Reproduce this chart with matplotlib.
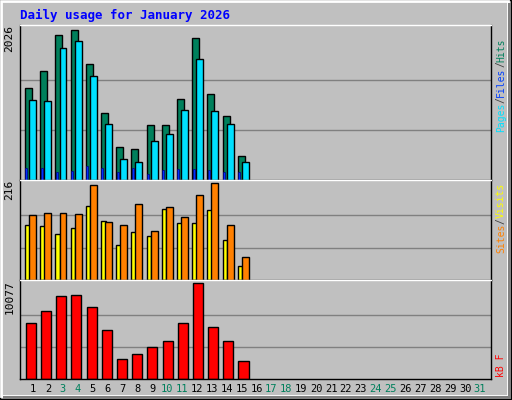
import matplotlib
matplotlib.use("Agg")
import matplotlib.pyplot as plt
from matplotlib.patches import Rectangle

days = list(range(1, 32))
hits = [1240,1461,1957,2026,1557,896,441,413,744,744,1089,1916,1158,855,317]
files = [1075,1061,1778,1874,1406,758,289,248,524,620,937,1626,923,758,248]
pages = [156,156,101,115,184,156,101,156,87,129,142,142,129,101,101]
visits = [122,120,103,115,164,131,77,106,99,157,127,127,155,89,31]
sites = [144,150,148,146,211,129,122,169,110,162,141,188,216,122,52]
kbytes = [5869,7087,8748,8859,7530,5094,2104,2658,3322,3987,5869,10077,5426,3987,1883]
weekend = [3,4,10,11,17,18,24,25,31]
title = "Daily usage for January 2026"

W, H = 512, 400
fig = plt.figure(figsize=(W/100, H/100), dpi=100)
fig.patch.set_facecolor("#c0c0c0")
fa = fig.add_axes([0, 0, 1, 1]); fa.set_xlim(0, W); fa.set_ylim(H, 0); fa.axis("off")
fa.add_patch(Rectangle((0, 0), W-1, H-1, fill=False, ec="black", lw=1))
fa.add_patch(Rectangle((1, 1), W-5, H-5, fill=False, ec="white", lw=2))
fa.add_patch(Rectangle((W-4, 3), 3, H-5, fc="#808080", ec="none"))
fa.add_patch(Rectangle((3, H-4), W-5, 3, fc="#808080", ec="none"))

mono = "DejaVu Sans Mono"
fig.text(20/W, 1-15/H, title, color="#0000ff", fontsize=9, fontweight="bold",
         family=mono, va="center")

x0, x1 = 20, 491
def panel(top, bot):
    ax = fig.add_axes([x0/W, 1-bot/H, (x1-x0)/W, (bot-top)/H])
    ax.set_facecolor("#c0c0c0")
    ax.set_xlim(0.5, 31.5)
    for s in ax.spines.values():
        s.set_color("black"); s.set_linewidth(1)
    ax.spines["top"].set_color("white")
    ax.set_xticks([]); ax.set_yticks([])
    return ax

def setup(ax, mx):
    ax.set_ylim(0, mx*1.03)
    for f in (1/3, 2/3):
        ax.axhline(mx*f, color="#808080", lw=1, zorder=0)
    ax.text(-0.012, 1.0, str(mx), transform=ax.transAxes, rotation=90,
            ha="right", va="top", fontsize=8, family=mono)

n = len(hits)
d = days[:n]
ax1 = panel(25, 180)
setup(ax1, 2026)
ax1.bar([x-0.17 for x in d], hits, width=0.46, align="edge", color="#00805c", ec="black", lw=1, zorder=2)
ax1.bar([x+0.1 for x in d], files, width=0.46, align="edge", color="#00e0ff", ec="black", lw=1, zorder=3)
ax1.bar([x-0.14 for x in d], pages, width=0.13, align="edge", color="#0030ff", ec="#000080", lw=0.5, zorder=4)

ax2 = panel(180, 280)
setup(ax2, 216)
ax2.bar([x-0.17 for x in d], visits, width=0.3, align="edge", color="#ffff00", ec="black", lw=1, zorder=2)
ax2.bar([x+0.1 for x in d], sites, width=0.46, align="edge", color="#ff8000", ec="black", lw=1, zorder=3)

ax3 = panel(280, 379)
setup(ax3, 10077)
ax3.bar([x-0.12 for x in d], kbytes, width=0.66, align="edge", color="#ff0000", ec="black", lw=1, zorder=2)

for dd in days:
    fig.text((33 + (dd-1)*14.9) / W, 1-389/H, str(dd),
             ha="center", va="center", fontsize=7.5, family=mono,
             color="#00805c" if dd in weekend else "black")

def side(parts, ycenter, fs=7):
    ch = fs*100/72*0.602
    total = sum(len(t) for t, c in parts)
    y = ycenter + total*ch/2
    for t, c in parts:
        fig.text(501/W, 1-(y - len(t)*ch/2)/H, t, rotation=90, color=c, fontsize=fs,
                 family=mono, ha="center", va="center")
        y -= len(t)*ch

side([("Pages", "#00e0ff"), ("/", "#404040"), ("Files", "#0040ff"), ("/", "#404040"), ("Hits", "#00805c")], 85)
side([("Sites", "#ff8000"), ("/", "#404040"), ("Visits", "#ffff00")], 218)
side([("kB F", "#ff0000")], 365)

fig.savefig("out.png", dpi=100, facecolor=fig.get_facecolor())
